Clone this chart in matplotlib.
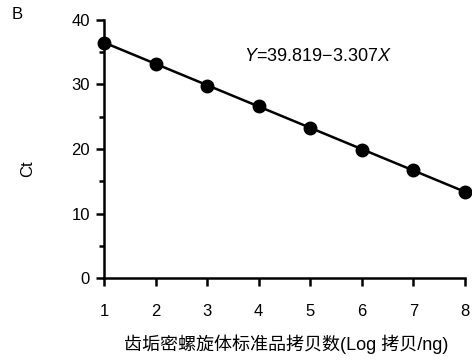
""" standard curve plot """
import numpy as np
import matplotlib.pyplot as plt
from matplotlib.ticker import MultipleLocator

# log copies vs. Ct
log_copies = [1, 2, 3, 4, 5, 6, 7, 8]
ct_values = [36.5, 33.2, 29.8, 26.6, 23.3, 19.9, 16.7, 13.3]
intercept = 39.819
slope = -3.307

x_ticks = [1, 2, 3, 4, 5, 6, 7, 8]
y_ticks = [0, 10, 20, 30, 40]


def main():
    plt.rcParams['font.family'] = ['Liberation Sans', 'Noto Sans CJK SC', 'DejaVu Sans']
    plt.rcParams['mathtext.fontset'] = 'custom'
    plt.rcParams['mathtext.it'] = 'Liberation Sans:italic'
    fig = plt.figure(figsize=(4.72, 3.62), dpi=100)
    ax = fig.add_axes([0.2203, 0.232, 0.7648, 0.7128])

    fit_x = np.array([log_copies[0], log_copies[-1]])
    ax.plot(fit_x, intercept + slope * fit_x, color='black', lw=1.8, zorder=2)
    ax.plot(log_copies, ct_values, 'o', color='black', ms=9, zorder=3, clip_on=False)

    ax.set_xlim(1, 8)
    ax.set_ylim(0, 40)
    ax.set_xticks(x_ticks)
    ax.set_yticks(y_ticks)
    ax.yaxis.set_minor_locator(MultipleLocator(5))
    for side in ['top', 'right']:
        ax.spines[side].set_visible(False)
    for side in ['left', 'bottom']:
        ax.spines[side].set_linewidth(1.8)
    ax.tick_params(which='major', direction='out', length=6, width=1.8, labelsize=12)
    ax.tick_params(which='minor', direction='out', length=3.5, width=1.8)
    ax.tick_params(axis='x', pad=12.5)
    ax.tick_params(axis='y', pad=4)

    ax.text(0.388, 0.857, '$\\it{Y}$=39.819\u22123.307$\\it{X}$', transform=ax.transAxes,
            fontsize=13, va='center')
    fig.text(0.058, 0.535, 'Ct', rotation=90, fontsize=12, ha='center', va='center')
    fig.text(0.025, 0.96, 'B', fontsize=12, ha='left', va='center')
    fig.text(0.607, 0.048, '齿垢密螺旋体标准品拷贝数(Log 拷贝/ng)', fontsize=13,
             ha='center', va='center')

    plt.savefig('out.png', dpi=100)


if __name__ == "__main__":
    main()
